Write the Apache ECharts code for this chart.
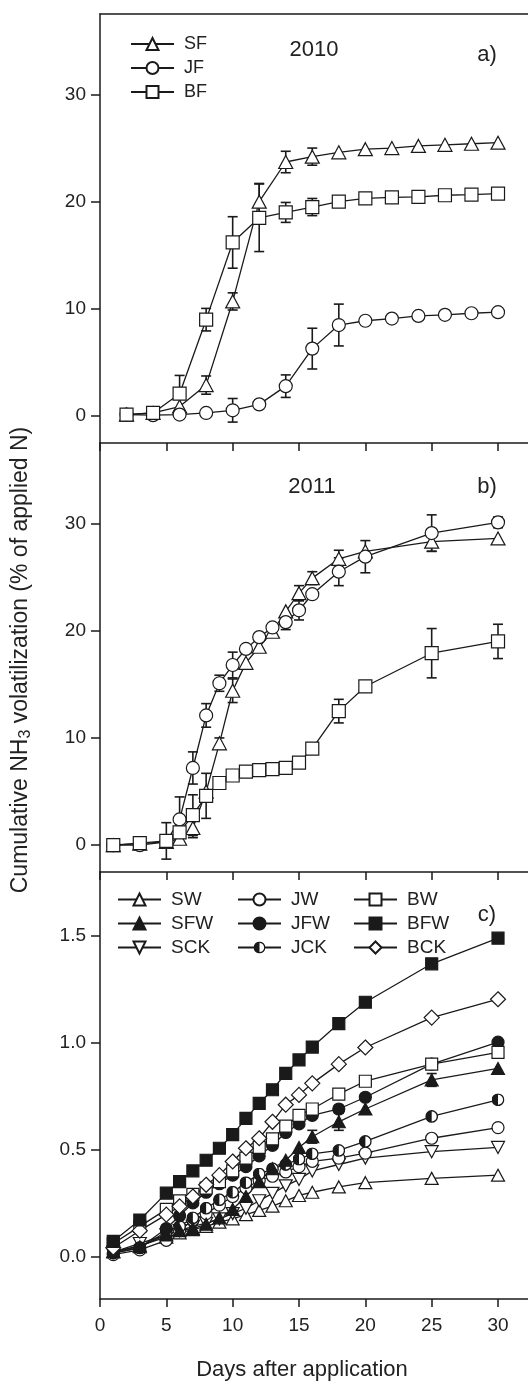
<!DOCTYPE html>
<html>
<head>
<meta charset="utf-8">
<script src="https://cdn.jsdelivr.net/npm/echarts@6/dist/echarts.min.js"></script>
<style>
html, body { margin: 0; padding: 0; background: #fff; }
#chart { width: 528px; height: 1385px; }
</style>
</head>
<body>
<div id="chart"></div>
<script>
// ---- data ----
// a) 2010
const daysA = [2, 4, 6, 8, 10, 12, 14, 16, 18, 20, 22, 24, 26, 28, 30];
const sfA = [0.15, 0.3, 0.9, 2.9, 10.7, 20.0, 23.7, 24.2, 24.6, 24.9, 25.0, 25.2, 25.3, 25.4, 25.5];
const sfAErr = [0, 0, 0, 0.85, 0.8, 1.7, 1.0, 0.8, 0, 0, 0, 0, 0, 0, 0];
const jfA = [0.15, 0.1, 0.15, 0.3, 0.55, 1.1, 2.8, 6.3, 8.5, 8.9, 9.1, 9.35, 9.45, 9.6, 9.7];
const jfAErr = [0, 0, 0, 0, 1.1, 0, 1.05, 1.9, 1.95, 0, 0, 0, 0, 0.3, 0];
const bfA = [0.15, 0.3, 2.1, 9.0, 16.2, 18.5, 19.0, 19.5, 20.0, 20.3, 20.4, 20.45, 20.6, 20.65, 20.75];
const bfAErr = [0, 0, 1.7, 1.05, 2.4, 3.15, 0.93, 0.8, 0, 0, 0, 0, 0, 0, 0];

// b) 2011
const daysB = [1, 3, 5, 6, 7, 8, 9, 10, 11, 12, 13, 14, 15, 16, 18, 20, 25, 30];
const sfB = [0, 0.15, 0.3, 0.6, 1.6, 5.0, 9.5, 14.4, 17.0, 18.5, 19.9, 21.8, 23.5, 24.9, 26.7, 27.4, 28.3, 28.6];
const sfBErr = [0, 0, 0, 0, 0.9, 0, 0.5, 1.1, 0, 0, 0, 0, 0.7, 0.6, 0.8, 0, 0.9, 0];
const jfB = [0, 0, 0.3, 2.4, 7.2, 12.1, 15.1, 16.8, 18.3, 19.4, 20.3, 20.8, 21.9, 23.4, 25.5, 26.9, 29.1, 30.1];
const jfBErr = [0, 0, 0, 2.1, 1.5, 1.1, 0.75, 1.2, 0, 0, 0, 0.7, 0.9, 0, 1.3, 1.5, 1.7, 0.5];
const bfB = [0, 0.2, 0.4, 1.2, 2.8, 4.6, 5.8, 6.5, 6.85, 7.0, 7.1, 7.2, 7.7, 9.0, 12.5, 14.8, 17.9, 19.0];
const bfBErr = [0, 0, 1.7, 0, 1.9, 2.1, 0, 0, 0, 0, 0, 0, 0, 0.3, 1.1, 0, 2.3, 1.6];

// c) controls / water treatments
const daysC = [1, 3, 5, 6, 7, 8, 9, 10, 11, 12, 13, 14, 15, 16, 18, 20, 25, 30];
const sw  = [0.02, 0.05, 0.09, 0.11, 0.125, 0.14, 0.16, 0.175, 0.195, 0.215, 0.235, 0.26, 0.285, 0.30, 0.325, 0.345, 0.365, 0.38];
const sfw = [0.023, 0.045, 0.10, 0.12, 0.13, 0.15, 0.18, 0.22, 0.28, 0.35, 0.41, 0.45, 0.51, 0.56, 0.63, 0.69, 0.826, 0.88];
const sfwErr = [0, 0, 0, 0, 0, 0, 0, 0, 0, 0, 0, 0, 0, 0.03, 0.04, 0, 0.03, 0];
const sck = [0.02, 0.06, 0.10, 0.12, 0.14, 0.155, 0.175, 0.20, 0.225, 0.26, 0.295, 0.33, 0.36, 0.40, 0.43, 0.46, 0.49, 0.51];
const jw  = [0.008, 0.03, 0.075, 0.12, 0.17, 0.20, 0.24, 0.28, 0.32, 0.355, 0.375, 0.395, 0.42, 0.445, 0.46, 0.483, 0.553, 0.603];
const jfw = [0.016, 0.04, 0.13, 0.19, 0.25, 0.30, 0.34, 0.38, 0.42, 0.47, 0.52, 0.58, 0.62, 0.66, 0.69, 0.745, 0.90, 1.003];
const jck = [0.015, 0.04, 0.115, 0.14, 0.18, 0.225, 0.265, 0.30, 0.345, 0.385, 0.41, 0.43, 0.455, 0.48, 0.496, 0.538, 0.655, 0.733];
const bw  = [0.06, 0.14, 0.22, 0.26, 0.29, 0.32, 0.35, 0.40, 0.46, 0.51, 0.55, 0.61, 0.66, 0.69, 0.76, 0.82, 0.90, 0.955];
const bfw = [0.07, 0.17, 0.296, 0.35, 0.40, 0.45, 0.506, 0.57, 0.646, 0.716, 0.78, 0.857, 0.92, 0.98, 1.09, 1.19, 1.37, 1.49];
const bck = [0.04, 0.12, 0.195, 0.234, 0.28, 0.335, 0.38, 0.444, 0.506, 0.553, 0.63, 0.71, 0.756, 0.81, 0.90, 0.978, 1.118, 1.204];

// axis ticks
const xTicks = [0, 5, 10, 15, 20, 25, 30];
const yTicksAB = [0, 10, 20, 30];
const yTicksC = [0, 0.5, 1.0, 1.5];

const ink = '#1a1a1a';
const font = '"Liberation Sans", Arial, sans-serif';

// half filled circle for the JCK series
const halfSvg = "<svg xmlns='http://www.w3.org/2000/svg' width='26' height='26' viewBox='0 0 26 26'>" +
  "<circle cx='13' cy='13' r='11.4' fill='white' stroke='#1a1a1a' stroke-width='2.8'/>" +
  "<path d='M13 1.6 A11.4 11.4 0 0 0 13 24.4 Z' fill='#1a1a1a'/></svg>";
const halfCircle = 'image://data:image/svg+xml;charset=utf-8,' + encodeURIComponent(halfSvg);

function line(name, xs, ys, g, sym, filled, size, rot) {
  return {
    type: 'line', name: name, xAxisIndex: g, yAxisIndex: g, z: 2,
    symbol: sym, symbolSize: size, symbolRotate: rot || 0, showAllSymbol: true,
    data: xs.map((x, i) => [x, ys[i]]),
    lineStyle: { color: ink, width: 1.3 },
    itemStyle: { color: filled ? ink : '#fff', borderColor: ink, borderWidth: 1.2, opacity: 1 },
    emphasis: { disabled: true }, silent: true, animation: false
  };
}

function errBars(name, xs, ys, es, g) {
  const data = [];
  xs.forEach((x, i) => { if (es[i] > 0) data.push([x, ys[i], es[i]]); });
  return {
    type: 'custom', name: name + ' err', xAxisIndex: g, yAxisIndex: g, z: 1, silent: true,
    encode: { x: 0, y: 1 },
    renderItem: (params, api) => {
      const x = api.value(0), y = api.value(1), e = api.value(2);
      const top = api.coord([x, y + e]);
      const bot = api.coord([x, y - e]);
      const w = 5;
      const st = { stroke: ink, lineWidth: 1.6 };
      return {
        type: 'group', children: [
          { type: 'line', shape: { x1: top[0], y1: top[1], x2: bot[0], y2: bot[1] }, style: st },
          { type: 'line', shape: { x1: top[0] - w, y1: top[1], x2: top[0] + w, y2: top[1] }, style: st },
          { type: 'line', shape: { x1: bot[0] - w, y1: bot[1], x2: bot[0] + w, y2: bot[1] }, style: st }
        ]
      };
    },
    data: data
  };
}

// the plot box runs past the right edge of the picture, so no right border
const grids = [
  { left: 100, top: 14, right: 0, height: 429 },
  { left: 100, top: 443, right: 0, height: 429 },
  { left: 100, top: 872, right: 0, height: 427 }
];
const xMax = 32.26; // 30 lands at x = 498

const axisLine = { show: true, onZero: false, lineStyle: { color: ink, width: 1.5 } };
const xAxes = [0, 1, 2].map(i => ({
  type: 'value', gridIndex: i, min: 0, max: xMax,
  axisLine: axisLine,
  axisTick: { show: true, customValues: xTicks, length: 8, lineStyle: { color: ink, width: 1.5 } },
  axisLabel: { show: i === 2, customValues: xTicks, fontSize: 19, color: '#222', margin: 17, fontFamily: font },
  splitLine: { show: false }
}));
// top edge of panel a
xAxes.push({
  type: 'value', gridIndex: 0, position: 'top', min: 0, max: xMax,
  axisLine: axisLine, axisTick: { show: false }, axisLabel: { show: false }, splitLine: { show: false }
});

function yAxis(i, min, max, ticks, fmt) {
  return {
    type: 'value', gridIndex: i, min: min, max: max,
    axisLine: axisLine,
    axisTick: { show: true, customValues: ticks, length: 9, lineStyle: { color: ink, width: 1.5 } },
    axisLabel: { customValues: ticks, fontSize: 19, color: '#222', margin: 14, fontFamily: font, formatter: fmt },
    splitLine: { show: false }
  };
}

const yAxes = [
  yAxis(0, -2.5, 37.5, yTicksAB, v => String(v)),
  yAxis(1, -2.5, 37.5, yTicksAB, v => String(v)),
  yAxis(2, -0.2, 1.8, yTicksC, v => v.toFixed(1))
];

const tri = [14, 13];
const series = [
  errBars('SF a', daysA, sfA, sfAErr, 0),
  errBars('JF a', daysA, jfA, jfAErr, 0),
  errBars('BF a', daysA, bfA, bfAErr, 0),
  line('SF', daysA, sfA, 0, 'triangle', false, tri),
  line('JF', daysA, jfA, 0, 'circle', false, 13),
  line('BF', daysA, bfA, 0, 'rect', false, 13),

  errBars('SF b', daysB, sfB, sfBErr, 1),
  errBars('JF b', daysB, jfB, jfBErr, 1),
  errBars('BF b', daysB, bfB, bfBErr, 1),
  line('SF', daysB, sfB, 1, 'triangle', false, tri),
  line('JF', daysB, jfB, 1, 'circle', false, 13),
  line('BF', daysB, bfB, 1, 'rect', false, 13),

  errBars('SFW', daysC, sfw, sfwErr, 2),
  line('SW', daysC, sw, 2, 'triangle', false, [13, 12]),
  line('SCK', daysC, sck, 2, 'triangle', false, [13, 12], 180),
  line('JW', daysC, jw, 2, 'circle', false, 12),
  line('JCK', daysC, jck, 2, halfCircle, false, 13),
  line('SFW', daysC, sfw, 2, 'triangle', true, [13, 12]),
  line('JFW', daysC, jfw, 2, 'circle', true, 12),
  line('BW', daysC, bw, 2, 'rect', false, 12),
  line('BCK', daysC, bck, 2, 'diamond', false, [15, 15]),
  line('BFW', daysC, bfw, 2, 'rect', true, 12)
];

function legend(names, left, top, size, gap) {
  return {
    data: names, orient: 'vertical', left: left, top: top, padding: 0,
    itemWidth: 43, itemHeight: 15, itemGap: gap, selectedMode: false,
    textStyle: { fontSize: size, color: '#222', fontFamily: font, padding: [0, 0, 0, 5] }
  };
}

function label(text, x, y, size) {
  return {
    type: 'text', x: x, y: y, silent: true,
    style: { text: text, fontSize: size, fontFamily: font, fill: '#222', align: 'center', verticalAlign: 'middle' }
  };
}

const option = {
  animation: false,
  textStyle: { fontFamily: font },
  grid: grids,
  xAxis: xAxes,
  yAxis: yAxes,
  legend: [
    legend(['SF', 'JF', 'BF'], 130, 35, 18, 6),
    legend(['SW', 'SFW', 'SCK'], 117, 890, 19, 5),
    legend(['JW', 'JFW', 'JCK'], 237, 890, 19, 5),
    legend(['BW', 'BFW', 'BCK'], 353, 890, 19, 5)
  ],
  graphic: [
    label('2010', 314, 50, 22),
    label('a)', 487, 55, 22),
    label('2011', 312, 487, 22),
    label('b)', 487, 487, 22),
    label('c)', 487, 915, 22),
    label('Days after application', 302, 1370, 22),
    {
      type: 'text', x: 21, y: 660, rotation: Math.PI / 2, silent: true,
      style: {
        text: '{a|Cumulative NH}{s|3}{a| volatilization (% of applied N)}',
        align: 'center', verticalAlign: 'middle', fill: '#222',
        rich: {
          a: { fontSize: 23, fontFamily: font, fill: '#222' },
          s: { fontSize: 16, fontFamily: font, fill: '#222', padding: [9, 0, 0, 0] }
        }
      }
    }
  ],
  series: series
};

const chart = echarts.init(document.getElementById('chart'), null, { renderer: 'canvas' });
chart.setOption(option);
</script>
</body>
</html>
